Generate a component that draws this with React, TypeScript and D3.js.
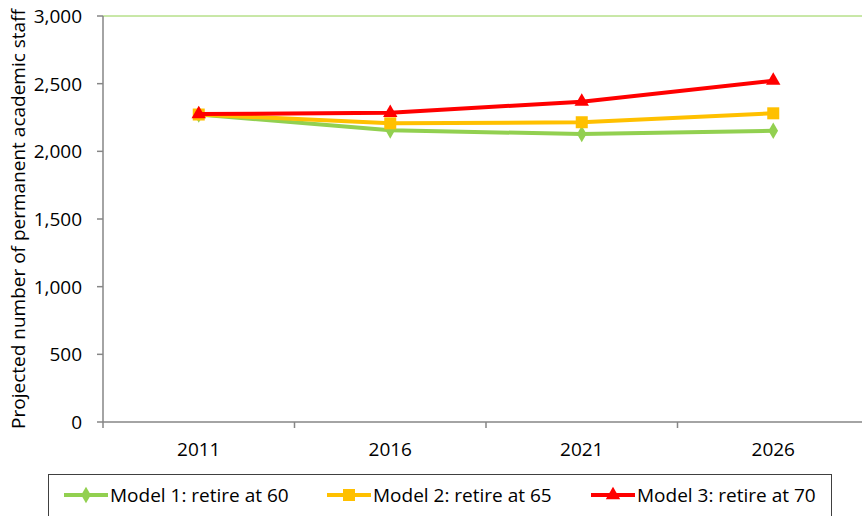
import React from "react";
import * as d3 from "d3";

const years = ["2011", "2016", "2021", "2026"];
const model1 = [2272, 2155, 2128, 2152];
const model2 = [2272, 2207, 2215, 2281];
const model3 = [2275, 2285, 2367, 2522];
const yTicks = [0, 500, 1000, 1500, 2000, 2500, 3000];
const seriesNames = ["Model 1: retire at 60", "Model 2: retire at 65", "Model 3: retire at 70"];
const seriesColors = ["#92D050", "#FFC000", "#FF0000"];
const seriesShapes = ["diamond", "square", "triangle"];

const W = 862, H = 516;
const left = 103, top = 16, bottom = 422;
const FONT = "'Open Sans', sans-serif";
const FS = 19;

function Marker({ shape, x, y, color }: { shape: string; x: number; y: number; color: string }) {
  if (shape === "diamond") {
    const s = d3.symbol(d3.symbolDiamond, 80)();
    return <path d={s || ""} transform={`translate(${x},${y})`} fill={color} />;
  }
  if (shape === "square") {
    return <rect x={x - 6} y={y - 6} width={12} height={12} fill={color} />;
  }
  const s = d3.symbol(d3.symbolTriangle, 90)();
  return <path d={s || ""} transform={`translate(${x},${y})`} fill={color} />;
}

export default function App() {
  const x = d3.scaleBand<string>().domain(years).range([left, left + 4 * 191.5]);
  const y = d3.scaleLinear().domain([0, 3000]).range([bottom, top]);
  const data = [model1, model2, model3];
  const line = d3
    .line<number>()
    .x((_, i) => (x(years[i]) as number) + x.bandwidth() / 2)
    .y((d) => y(d));
  const fmt = d3.format(",");
  const legendX = [64, 327, 591];
  return (
    <svg width={W} height={H} style={{ position: "absolute", left: 0, top: 0 }} fontFamily={FONT}>
      <rect width={W} height={H} fill="#fff" />
      <line x1={left} x2={W} y1={y(3000)} y2={y(3000)} stroke="#92D050" strokeWidth={1} />
      <line x1={left} x2={left} y1={top} y2={bottom} stroke="#868686" strokeWidth={1.5} />
      {yTicks.map((t) => (
        <g key={t}>
          <line x1={left - 6} x2={left} y1={y(t)} y2={y(t)} stroke="#868686" strokeWidth={1.5} />
          <text x={82} y={y(t)} dy="0.36em" textAnchor="end" fontSize={FS} fill="#000">
            {fmt(t)}
          </text>
        </g>
      ))}
      <line x1={left} x2={W} y1={bottom} y2={bottom} stroke="#868686" strokeWidth={1.5} />
      {years.map((yr) => (
        <line key={"t" + yr} x1={x(yr) as number} x2={x(yr) as number} y1={bottom} y2={bottom + 6} stroke="#868686" strokeWidth={1.5} />
      ))}
      {years.map((yr) => (
        <text key={yr} x={(x(yr) as number) + x.bandwidth() / 2} y={456} textAnchor="middle" fontSize={FS} fill="#000">
          {yr}
        </text>
      ))}
      <text transform={`translate(25,219) rotate(-90)`} textAnchor="middle" fontSize={FS} fill="#000">
        Projected number of permanent academic staff
      </text>
      {data.map((d, si) => (
        <g key={si}>
          <path d={line(d) || ""} fill="none" stroke={seriesColors[si]} strokeWidth={4} strokeLinejoin="round" />
          {d.map((v, i) => (
            <Marker key={i} shape={seriesShapes[si]} x={(x(years[i]) as number) + x.bandwidth() / 2} y={y(v)} color={seriesColors[si]} />
          ))}
        </g>
      ))}
      <rect x={48.5} y={474.5} width={783} height={60} fill="none" stroke="#404040" strokeWidth={1} />
      {seriesNames.map((n, i) => (
        <g key={n}>
          <line x1={legendX[i]} x2={legendX[i] + 44} y1={495} y2={495} stroke={seriesColors[i]} strokeWidth={4} />
          <Marker shape={seriesShapes[i]} x={legendX[i] + 22} y={495} color={seriesColors[i]} />
          <text x={legendX[i] + 46} y={502} fontSize={FS} fill="#000">
            {n}
          </text>
        </g>
      ))}
    </svg>
  );
}
